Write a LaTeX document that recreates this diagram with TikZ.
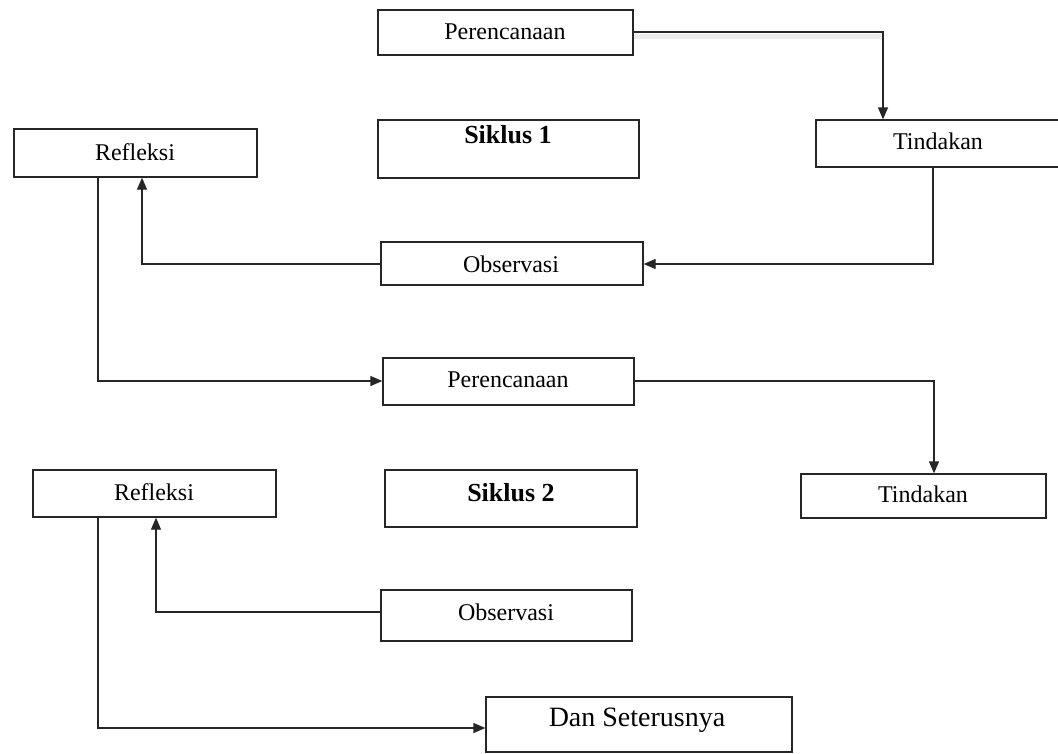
\documentclass[tikz,border=0pt]{standalone}
\usepackage{fontspec}
\setmainfont{Liberation Serif}
\usetikzlibrary{arrows.meta}
\tikzset{
  box/.style={draw=black!85, line width=1.3pt, rectangle, inner sep=0pt},
  lbl/.style={inner sep=0pt, font=\fontsize{24}{28}\selectfont},
  blbl/.style={inner sep=0pt, font=\fontsize{26}{30}\selectfont\bfseries},
  arr/.style={draw=black!85, line width=1.3pt, -{Triangle[length=12pt,width=10pt]}},
  ln/.style={draw=black!85, line width=1.3pt},
}
\newcommand{\bx}[6]{% name, x1, y1, x2, y2
  \node[box, minimum width={#4-#2}, minimum height={#5-#3}] (#1) at ({(#2+#4)/2},{(#3+#5)/2}) {};}
\begin{document}
\begin{tikzpicture}[x=1pt,y=-1pt]
\useasboundingbox (0,0) rectangle (1058,753);
\fill[white] (0,0) rectangle (1058,753);
% boxes
\bx{P1}{378}{10}{633}{55}{}
\bx{S1}{378}{120}{639}{178}{}
\bx{T1}{816}{120}{1064}{167}{}
\bx{R1}{14}{129}{257}{177}{}
\bx{O1}{381}{242}{643}{285}{}
\bx{P2}{383}{358}{634}{405}{}
\bx{R2}{33}{470}{276}{517}{}
\bx{S2}{385}{470}{637}{527}{}
\bx{T2}{801}{474}{1046}{518}{}
\bx{O2}{381}{590}{632}{641}{}
\bx{D}{486}{697}{792}{752}{}
% texts
\node[lbl] (tP1) at (505,32) {Perencanaan};
\node[blbl] (tS1) at (508,135) {Siklus 1};
\node[lbl] (tT1) at (938,141) {Tindakan};
\node[lbl] (tR1) at (135,152) {Refleksi};
\node[lbl] (tO1) at (511,264) {Observasi};
\node[lbl] (tP2) at (508,380) {Perencanaan};
\node[lbl] (tR2) at (154,492) {Refleksi};
\node[blbl] (tS2) at (511,493) {Siklus 2};
\node[lbl] (tT2) at (923,494) {Tindakan};
\node[lbl] (tO2) at (506,612) {Observasi};
\node[lbl, font=\fontsize{28}{32}\selectfont] (tD) at (637,720) {Dan Seterusnya};
% routing coordinates
\coordinate (k1) at (883,32);
\coordinate (k2) at (933,264);
\coordinate (k3) at (142,264);
\coordinate (k4) at (98,381);
\coordinate (k5) at (934,381);
\coordinate (k6) at (156,612);
\coordinate (k7) at (98,728);
% connectors
\draw[black!8, line width=5pt] ([yshift=-4pt]P1.east |- k1) -- ([yshift=-4pt]k1);
\draw[arr] (P1.east |- k1) -- (k1) -- (k1 |- T1.north);
\draw[arr] (k2 |- T1.south) -- (k2) -- (O1.east |- k2);
\draw[arr] (O1.west |- k3) -- (k3) -- (k3 |- R1.south);
\draw[arr] (k4 |- R1.south) -- (k4) -- (P2.west |- k4);
\draw[arr] (P2.east |- k5) -- (k5) -- (k5 |- T2.north);
\draw[arr] (O2.west |- k6) -- (k6) -- (k6 |- R2.south);
\draw[arr] (k7 |- R2.south) -- (k7) -- (D.west |- k7);
\end{tikzpicture}
\end{document}
